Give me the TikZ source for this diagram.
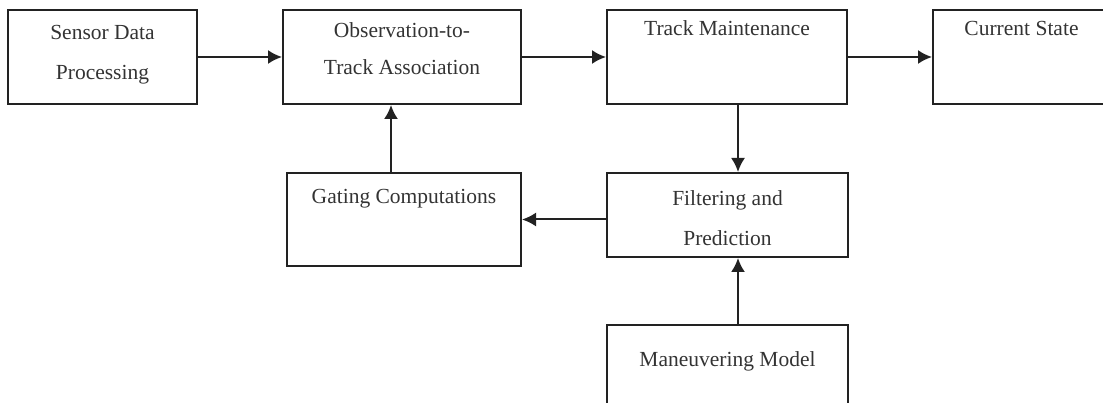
\documentclass[tikz,border=0pt]{standalone}
\usepackage{fontspec}
\setmainfont{Liberation Serif}
\usetikzlibrary{arrows.meta}
\definecolor{inkline}{HTML}{222222}
\definecolor{inktext}{HTML}{333333}
\tikzset{
    block/.style={
        draw=inkline, line width=2pt, rectangle, inner sep=0pt
    },
    lbl/.style={
        text=inktext, align=center, inner sep=0pt,
        font=\fontsize{21.5}{40}\selectfont
    },
    flow/.style={
        draw=inkline, line width=2pt, -{Latex[length=14pt,width=14pt]}
    }
}

\begin{document}
\begin{tikzpicture}[x=1pt, y=-1pt]
    % Init
    \useasboundingbox (0,0) rectangle (1103,403);
    % 1. def blocks
    \node[block, minimum width=189, minimum height=94] (sensor) at (102.5,57) {};
    \node[block, minimum width=238, minimum height=94] (assoc) at (402,57) {};
    \node[block, minimum width=240, minimum height=94] (maint) at (727,57) {};
    \node[block, minimum width=177, minimum height=94] (state) at (1021.5,57) {};
    \node[block, minimum width=234, minimum height=93] (gate) at (404,219.5) {};
    \node[block, minimum width=241, minimum height=84] (filt) at (727.5,215) {};
    \node[block, minimum width=241, minimum height=83] (man) at (727.5,366.5) {};
    % 2. def texts
    \node[lbl] (sensorT) at (102.5,55) {Sensor Data\\Processing};
    \node[lbl, font=\fontsize{21.5}{37}\selectfont] (assocT) at (402,49) {Observation-to-\\Track Association};
    \node[lbl] (maintT) at (727,28) {Track Maintenance};
    \node[lbl] (stateT) at (1021.5,28) {Current State};
    \node[lbl] (gateT) at (404,199) {Gating Computations};
    \node[lbl] (filtT) at (727.5,218) {Filtering and\\Prediction};
    \node[lbl] (manT) at (727.5,361) {Maneuvering Model};
    % 3. connect blocks
    \draw[flow] (sensor.east) -- (assoc.west);
    \draw[flow] (assoc.east) -- (maint.west);
    \draw[flow] (maint.east) -- (state.west);
    \draw[flow] ([xshift=11pt]maint.south) -- ([xshift=10.5pt]filt.north);
    \draw[flow] (filt.west |- gate.east) -- (gate.east);
    \draw[flow] ([xshift=-13pt]gate.north) -- ([xshift=-11pt]assoc.south);
    \draw[flow] ([xshift=10.5pt]man.north) -- ([xshift=10.5pt]filt.south);
\end{tikzpicture}
\end{document}
